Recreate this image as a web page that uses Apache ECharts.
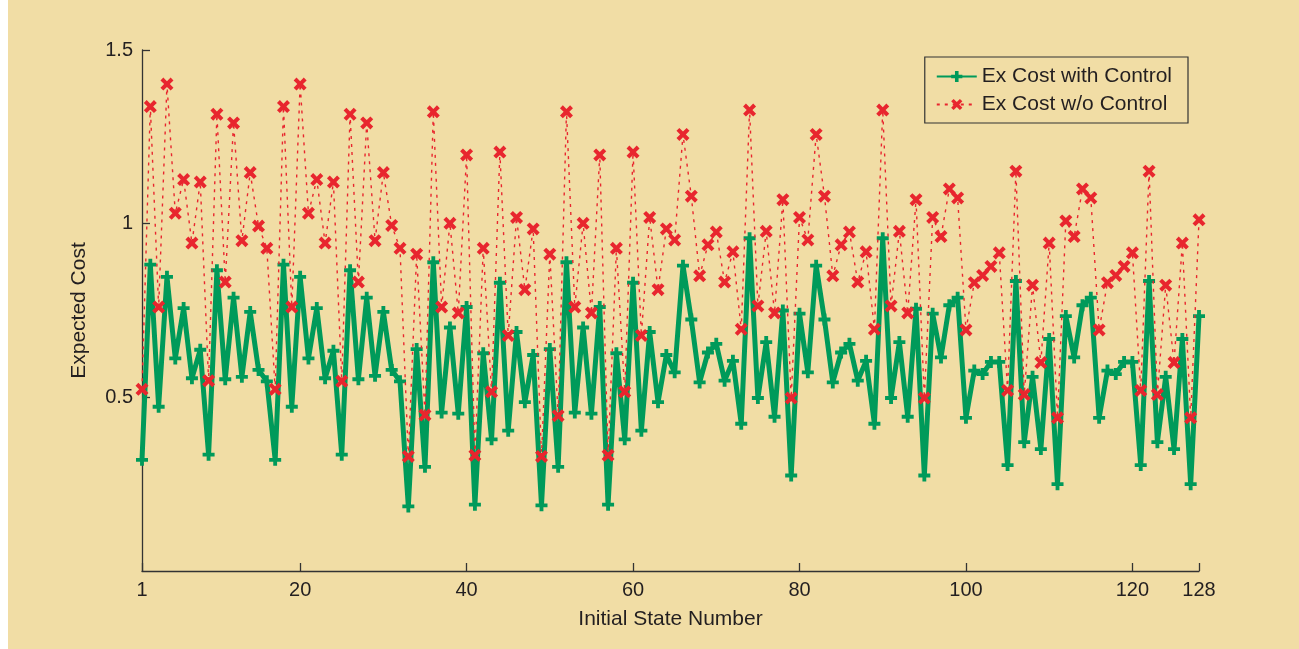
<!DOCTYPE html>
<html>
<head>
<meta charset="utf-8">
<script src="https://cdn.jsdelivr.net/npm/echarts@6/dist/echarts.min.js"></script>
<style>
html,body{margin:0;padding:0;background:#F1DDA5;}
#chart{width:1299px;height:649px;}
</style>
</head>
<body>
<div id="chart"></div>
<script>
// Expected cost with control (green), states 1..128
var costWithControl = [
  0.320,0.882,0.473,0.847,0.612,0.757,0.555,0.637,0.335,0.866,0.552,0.787,0.559,0.746,0.579,0.546,
  0.320,0.882,0.473,0.847,0.612,0.757,0.555,0.634,0.335,0.866,0.552,0.787,0.562,0.746,0.579,0.546,
  0.186,0.639,0.300,0.889,0.456,0.701,0.453,0.760,0.191,0.627,0.379,0.830,0.404,0.688,0.486,0.622,
  0.189,0.639,0.300,0.889,0.456,0.701,0.453,0.760,0.191,0.627,0.379,0.830,0.404,0.688,0.486,0.622,
  0.572,0.879,0.724,0.543,0.629,0.654,0.548,0.605,0.424,0.958,0.498,0.659,0.444,0.750,0.275,0.741,
  0.572,0.879,0.724,0.543,0.629,0.654,0.548,0.605,0.424,0.958,0.498,0.659,0.444,0.755,0.275,0.741,
  0.615,0.765,0.787,0.441,0.577,0.567,0.602,0.602,0.305,0.835,0.371,0.559,0.351,0.668,0.250,0.734,
  0.615,0.765,0.787,0.441,0.577,0.567,0.602,0.602,0.305,0.835,0.371,0.559,0.351,0.668,0.250,0.734
];
// Expected cost without control (red)
var costWithoutControl = [
  0.523,1.337,0.760,1.402,1.030,1.127,0.944,1.120,0.548,1.315,0.832,1.290,0.951,1.147,0.993,0.929,
  0.523,1.337,0.760,1.402,1.030,1.127,0.944,1.120,0.546,1.315,0.832,1.290,0.951,1.147,0.995,0.929,
  0.330,0.912,0.449,1.322,0.760,1.001,0.743,1.198,0.333,0.929,0.516,1.206,0.678,1.018,0.810,0.985,
  0.330,0.912,0.447,1.322,0.760,1.001,0.743,1.198,0.333,0.929,0.516,1.206,0.678,1.018,0.810,0.985,
  0.953,1.257,1.079,0.850,0.939,0.976,0.832,0.919,0.696,1.327,0.763,0.978,0.743,1.069,0.498,1.018,
  0.953,1.257,1.079,0.850,0.939,0.976,0.832,0.919,0.696,1.327,0.763,0.978,0.743,1.069,0.498,1.018,
  0.963,1.100,1.074,0.694,0.830,0.851,0.877,0.916,0.520,1.151,0.508,0.823,0.600,0.944,0.441,1.008,
  0.963,1.100,1.074,0.694,0.830,0.851,0.877,0.916,0.520,1.151,0.508,0.823,0.600,0.944,0.441,1.011
];
var xTickValues = [1, 20, 40, 60, 80, 100, 120, 128];
var yTickValues = [0.5, 1, 1.5];
var seriesNames = ['Ex Cost with Control', 'Ex Cost w/o Control'];
var xAxisName = 'Initial State Number';
var yAxisName = 'Expected Cost';

var plusPath = 'path://M3.4,0H6.6V3.4H10V6.6H6.6V10H3.4V6.6H0V3.4H3.4Z';
var crossPath = 'path://M0,2.2L2.2,0L5,2.8L7.8,0L10,2.2L7.2,5L10,7.8L7.8,10L5,7.2L2.2,10L0,7.8L2.8,5Z';

var chart = echarts.init(document.getElementById('chart'));
var font = 'Liberation Sans, Arial, sans-serif';
var axisColor = '#333';
var textColor = '#231F20';
chart.setOption({
  backgroundColor: '#F1DDA5',
  animation: false,
  textStyle: {fontFamily: font},
  graphic: [{type: 'rect', left: 0, top: 0, shape: {width: 8, height: 649}, style: {fill: '#ffffff'}, silent: true, z: -10}],
  grid: {left: 142, right: 100, top: 50, bottom: 78, containLabel: false},
  legend: {
    right: 111, top: 57, orient: 'vertical',
    borderColor: '#333', borderWidth: 1.2,
    padding: [9, 16, 8, 11], itemGap: 7,
    itemWidth: 40, itemHeight: 14,
    textStyle: {fontSize: 21, color: textColor, fontFamily: font},
    data: seriesNames
  },
  xAxis: {
    type: 'value', min: 1, max: 128,
    name: xAxisName, nameLocation: 'middle', nameGap: 38,
    nameTextStyle: {fontSize: 21, color: textColor, fontFamily: font},
    axisLine: {lineStyle: {color: axisColor, width: 1.3}},
    axisTick: {inside: true, length: 8, customValues: xTickValues, lineStyle: {color: axisColor, width: 1.3}},
    axisLabel: {customValues: xTickValues, fontSize: 20, color: textColor, margin: 9, fontFamily: font},
    splitLine: {show: false}
  },
  yAxis: {
    type: 'value', min: 0, max: 1.5,
    name: yAxisName, nameLocation: 'middle', nameGap: 52, nameRotate: 90,
    nameTextStyle: {fontSize: 21, color: textColor, fontFamily: font},
    axisLine: {show: true, lineStyle: {color: axisColor, width: 1.3}},
    axisTick: {show: true, inside: true, length: 8, customValues: yTickValues, lineStyle: {color: axisColor, width: 1.3}},
    axisLabel: {customValues: yTickValues, fontSize: 20, color: textColor, margin: 9, fontFamily: font},
    splitLine: {show: false}
  },
  series: [
    {
      name: seriesNames[0], type: 'line',
      data: costWithControl.map(function (v, i) { return [i + 1, v]; }),
      symbol: plusPath, symbolSize: 12, showAllSymbol: true,
      itemStyle: {color: '#009A5A'},
      lineStyle: {color: '#009A5A', width: 5},
      z: 2
    },
    {
      name: seriesNames[1], type: 'line',
      data: costWithoutControl.map(function (v, i) { return [i + 1, v]; }),
      symbol: crossPath, symbolSize: 13, showAllSymbol: true,
      itemStyle: {color: '#E8262E'},
      lineStyle: {color: '#E8262E', width: 1.4, type: [3, 5]},
      z: 3
    }
  ]
});
</script>
</body>
</html>
